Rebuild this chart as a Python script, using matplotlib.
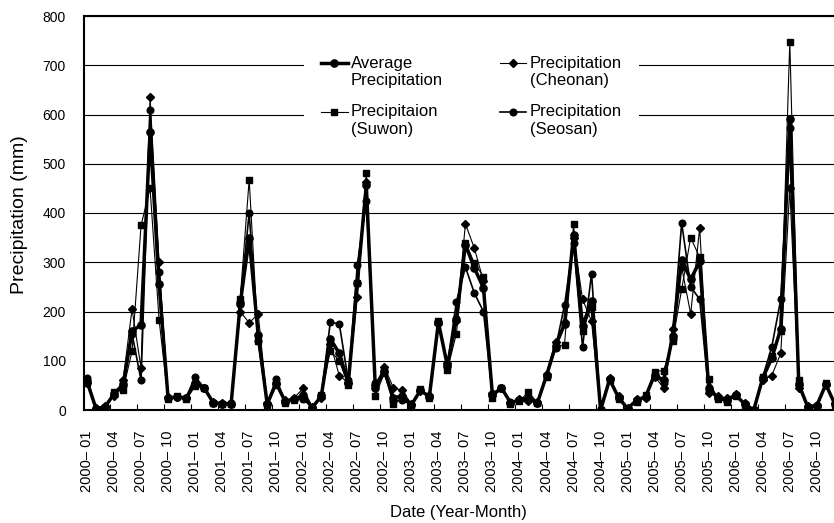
import matplotlib
matplotlib.use("Agg")
import matplotlib.pyplot as plt
from matplotlib.ticker import FixedLocator, FixedFormatter
from matplotlib.legend_handler import HandlerLine2D

plt.rcParams['font.family'] = ['Liberation Sans', 'DejaVu Sans']

# ---- data (monthly, 2000-01 .. 2006-12) ----
months = [f"{y}-{m:02d}" for y in range(2000, 2007) for m in range(1, 13)]

avg_precip = [58, 3, 6, 33, 50, 160, 173, 565, 255, 24, 27, 24,
              55, 45, 15, 13, 13, 215, 349, 152, 12, 55, 17, 22,
              30, 5, 28, 145, 115, 55, 257, 456, 45, 80, 25, 28,
              10, 40, 27, 178, 90, 185, 336, 288, 248, 30, 45, 15,
              20, 25, 15, 70, 130, 174, 355, 170, 222, 0, 62, 25,
              3, 20, 27, 72, 60, 150, 305, 265, 302, 45, 25, 20,
              30, 12, 0, 65, 105, 165, 590, 52, 6, 9, 52, 12]

suwon = [55, 2, 5, 37, 40, 120, 375, 450, 183, 22, 28, 22,
         48, 45, 14, 12, 13, 225, 468, 140, 10, 50, 15, 20,
         25, 4, 30, 120, 100, 50, 257, 482, 28, 75, 12, 25,
         8, 42, 25, 180, 82, 155, 340, 298, 271, 25, 45, 13,
         18, 37, 14, 68, 128, 132, 377, 160, 210, 0, 60, 22,
         2, 17, 30, 78, 80, 140, 245, 350, 310, 62, 22, 17,
         28, 10, 0, 68, 110, 160, 748, 60, 5, 8, 55, 10]

cheonan = [55, 4, 8, 28, 60, 205, 85, 635, 300, 26, 26, 25,
           50, 45, 16, 14, 12, 200, 177, 195, 15, 52, 20, 25,
           44, 6, 25, 135, 70, 55, 230, 462, 50, 88, 45, 40,
           12, 38, 30, 175, 95, 180, 378, 328, 262, 35, 45, 15,
           22, 18, 16, 74, 139, 178, 350, 225, 180, 0, 65, 28,
           4, 22, 25, 68, 45, 165, 290, 195, 370, 35, 28, 25,
           32, 14, 1, 60, 70, 115, 450, 45, 8, 10, 50, 15]

seosan = [64, 3, 6, 35, 55, 155, 60, 610, 280, 25, 27, 25,
          68, 45, 15, 13, 14, 220, 400, 140, 12, 63, 16, 22,
          22, 5, 30, 178, 175, 60, 294, 425, 55, 78, 18, 20,
          10, 40, 27, 178, 92, 220, 290, 237, 200, 30, 45, 16,
          20, 20, 15, 70, 125, 213, 340, 128, 277, 0, 62, 25,
          3, 20, 27, 70, 55, 145, 380, 250, 225, 38, 25, 18,
          30, 12, 0, 67, 128, 225, 572, 50, 6, 9, 52, 12]

tick_months = months[::3]
tick_labels = [m.replace('-', '\u2013 ') for m in tick_months]
y_ticks = list(range(0, 801, 100))


class TopLineHandler(HandlerLine2D):
    """Place the legend line/marker level with the first text line."""
    def __init__(self, dy=6.5, **kw):
        super().__init__(**kw)
        self.dy = dy

    def create_artists(self, legend, orig_handle, xdescent, ydescent,
                       width, height, fontsize, trans):
        arts = super().create_artists(legend, orig_handle, xdescent, ydescent,
                                      width, height, fontsize, trans)
        for a in arts:
            a.set_ydata([yy + self.dy for yy in a.get_ydata()])
        return arts


# ---- figure ----
W, H = 834, 523
fig = plt.figure(figsize=(W / 100, H / 100), dpi=100)
ax_left, ax_right, ax_top, ax_bot = 84, 850, 16, 410
ax = fig.add_axes([ax_left / W, (H - ax_bot) / H,
                   (ax_right - ax_left) / W, (ax_bot - ax_top) / H])

x = list(range(len(months)))
pitch = 9.01
x0 = -3 / pitch
ax.set_xlim(x0, x0 + (ax_right - ax_left) / pitch)
ax.set_ylim(0, 800)

ax.plot(x, suwon, color='black', lw=0.8, marker='s', ms=4.6,
        label='Precipitaion\n(Suwon)', zorder=3)
ax.plot(x, cheonan, color='black', lw=0.8, marker='D', ms=4.0,
        label='Precipitation\n(Cheonan)', zorder=3)
ax.plot(x, seosan, color='black', lw=1.2, marker='o', ms=4.8,
        label='Precipitation\n(Seosan)', zorder=3)
ax.plot(x, avg_precip, color='black', lw=2.5, marker='o', ms=5.2,
        label='Average\nPrecipitation', zorder=4)

# grid
ax.yaxis.set_major_locator(FixedLocator(y_ticks))
ax.grid(axis='y', color='black', lw=0.8)
ax.set_axisbelow(True)

# x ticks
tick_pos = [months.index(m) for m in tick_months]
ax.xaxis.set_major_locator(FixedLocator(tick_pos))
ax.xaxis.set_major_formatter(FixedFormatter(tick_labels))
ax.xaxis.set_minor_locator(FixedLocator([p - 0.5 for p in tick_pos if p > 0]))
ax.tick_params(axis='x', which='major', length=0, pad=15, labelsize=10.5,
               labelrotation=90)
ax.tick_params(axis='x', which='minor', length=4, direction='in', width=0.8)
ax.tick_params(axis='y', length=0, pad=13, labelsize=10)

for s in ['left', 'top', 'bottom']:
    ax.spines[s].set_linewidth(1.5)
ax.spines['right'].set_visible(False)

ax.set_xlabel('Date (Year-Month)', fontsize=12)
ax.xaxis.set_label_coords((458 - ax_left) / (ax_right - ax_left),
                          (ax_bot - 505) / (ax_bot - ax_top))
ax.set_ylabel('Precipitation (mm)', fontsize=14)
ax.yaxis.set_label_coords((28 - ax_left) / (ax_right - ax_left), 0.495)

handles, labels = ax.get_legend_handles_labels()
order = [3, 0, 1, 2]
hmap = {h: TopLineHandler(dy=6.5) for h in handles}
leg = ax.legend([handles[i] for i in order], [labels[i] for i in order],
                ncol=2, loc='upper left', handler_map=hmap,
                bbox_to_anchor=(296 / W, 1 - 31 / H), bbox_transform=fig.transFigure,
                fontsize=12, frameon=True, facecolor='white', edgecolor='none',
                framealpha=1, fancybox=False, borderpad=1.0, handlelength=1.6,
                handletextpad=0.2, columnspacing=3.4, labelspacing=0.95)
leg.set_zorder(5)

fig.savefig('out.png', dpi=100)
